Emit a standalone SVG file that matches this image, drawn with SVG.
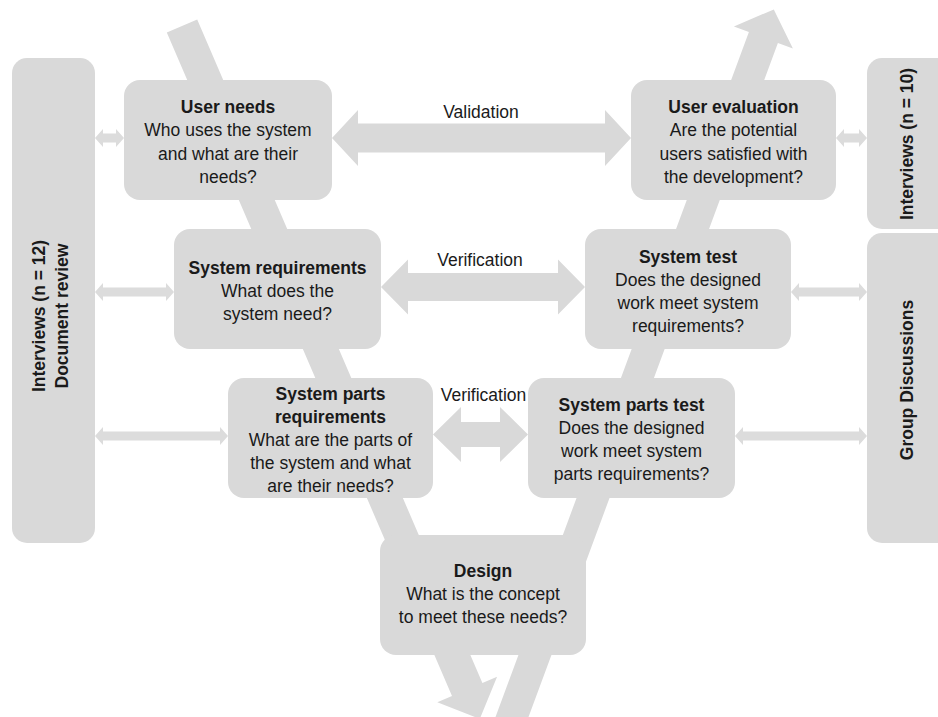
<svg xmlns="http://www.w3.org/2000/svg" width="938" height="717" viewBox="0 0 938 717">
<style>
.shape{fill:#d9d9d9}
.side{fill:#dcdcdc}
.box{fill:#d9d9d9}
text{font-family:"Liberation Sans",Arial,sans-serif;font-size:17.5px;fill:#1a1a1a;text-anchor:middle}
.b{font-weight:bold}
</style>
<rect width="938" height="717" fill="#ffffff"/>
<g id="connectors">
  <polygon class="shape" points="166.8,32.5 197.2,19.5 482.4,683 497.1,676.7 479.8,718.9 437.3,702.3 452,696"/>
  <polygon class="shape" points="492.7,724.6 748.9,32.1 733.9,26.6 773.8,9.4 792.9,48.4 777.9,42.9 521.7,735.4"/>
  <polygon class="shape" points="332,138 358,110 358,123.5 605,123.5 605,110 631,138 605,166 605,152.5 358,152.5 358,166"/>
  <polygon class="shape" points="381,287 408,259.5 408,273 558,273 558,259.5 585,287 558,314.5 558,301 408,301 408,314.5"/>
  <polygon class="shape" points="433,434.5 461,407 461,422 500,422 500,407 528,434.5 500,462 500,447 461,447 461,462"/>
  <polygon class="side" points="95,138 103,129 103,133.5 116,133.5 116,129 124,138 116,147 116,142.5 103,142.5 103,147"/>
  <polygon class="side" points="95,292 103,283 103,287.5 166,287.5 166,283 174,292 166,301 166,296.5 103,296.5 103,301"/>
  <polygon class="side" points="95,436 103,427 103,431.5 220,431.5 220,427 228,436 220,445 220,440.5 103,440.5 103,445"/>
  <polygon class="side" points="836,138 844,129 844,133.5 859,133.5 859,129 867,138 859,147 859,142.5 844,142.5 844,147"/>
  <polygon class="side" points="791,292 799,283 799,287.5 859,287.5 859,283 867,292 859,301 859,296.5 799,296.5 799,301"/>
  <polygon class="side" points="735,436 743,427 743,431.5 859,431.5 859,427 867,436 859,445 859,440.5 743,440.5 743,445"/>
  <text x="481" y="118">Validation</text>
  <text x="480" y="266">Verification</text>
  <text x="483.5" y="401">Verification</text>
</g>
<g id="left-panel">
  <rect class="box" x="12" y="58" width="83" height="485" rx="15"/>
  <text class="b" transform="translate(45,316) rotate(-90)">Interviews (n = 12)</text>
  <text class="b" transform="translate(68,316) rotate(-90)">Document review</text>
</g>
<g id="right-panel-interviews">
  <rect class="box" x="867" y="58" width="90" height="171" rx="15"/>
  <text class="b" transform="translate(913,144) rotate(-90)">Interviews (n = 10)</text>
</g>
<g id="right-panel-group">
  <rect class="box" x="867" y="233" width="90" height="310" rx="15"/>
  <text class="b" transform="translate(913,380) rotate(-90)">Group Discussions</text>
</g>
<g id="user-needs">
  <rect class="box" x="124" y="80" width="208" height="120" rx="16"/>
  <text x="228" y="113" class="b">User needs</text>
  <text x="228" y="136.3">Who uses the system</text>
  <text x="228" y="159.6">and what are their</text>
  <text x="228" y="182.9">needs?</text>
</g>
<g id="system-requirements">
  <rect class="box" x="174" y="229" width="207" height="120" rx="16"/>
  <text x="277.5" y="274" class="b">System requirements</text>
  <text x="277.5" y="297">What does the</text>
  <text x="277.5" y="320">system need?</text>
</g>
<g id="system-parts-requirements">
  <rect class="box" x="228" y="378" width="205" height="120" rx="16"/>
  <text x="330.5" y="400" class="b">System parts</text>
  <text x="330.5" y="423" class="b">requirements</text>
  <text x="330.5" y="446">What are the parts of</text>
  <text x="330.5" y="469">the system and what</text>
  <text x="330.5" y="492">are their needs?</text>
</g>
<g id="design">
  <rect class="box" x="380" y="535" width="206" height="120" rx="16"/>
  <text x="483" y="577" class="b">Design</text>
  <text x="483" y="600">What is the concept</text>
  <text x="483" y="623">to meet these needs?</text>
</g>
<g id="system-parts-test">
  <rect class="box" x="528" y="378" width="207" height="120" rx="16"/>
  <text x="631.5" y="411" class="b">System parts test</text>
  <text x="631.5" y="434">Does the designed</text>
  <text x="631.5" y="457">work meet system</text>
  <text x="631.5" y="480">parts requirements?</text>
</g>
<g id="system-test">
  <rect class="box" x="585" y="229" width="206" height="120" rx="16"/>
  <text x="688" y="263" class="b">System test</text>
  <text x="688" y="286">Does the designed</text>
  <text x="688" y="309">work meet system</text>
  <text x="688" y="332">requirements?</text>
</g>
<g id="user-evaluation">
  <rect class="box" x="631" y="80" width="205" height="120" rx="16"/>
  <text x="733.5" y="113" class="b">User evaluation</text>
  <text x="733.5" y="136.3">Are the potential</text>
  <text x="733.5" y="159.6">users satisfied with</text>
  <text x="733.5" y="182.9">the development?</text>
</g>
</svg>
